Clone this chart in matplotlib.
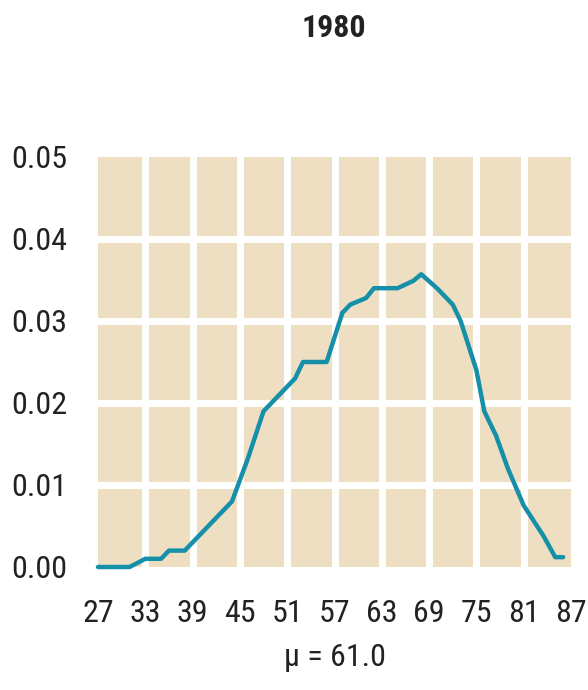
import matplotlib
matplotlib.use("Agg")
import matplotlib.pyplot as plt
from matplotlib import font_manager

# ---- data ----
title_text = "1980"
xlabel_text = "\u03bc = 61.0"
ages = [27, 31, 33, 35, 36, 38, 44, 46, 48, 50, 52, 53, 56, 58, 59, 61, 62, 65, 67, 68,
        70, 72, 73, 75, 76, 77.5, 79, 81, 83.5, 85, 86]
density = [0.000, 0.000, 0.001, 0.001, 0.002, 0.002, 0.008, 0.0132, 0.019, 0.021, 0.023,
           0.025, 0.025, 0.031, 0.032, 0.0328, 0.034, 0.034, 0.0349, 0.0357,
           0.034, 0.032, 0.030, 0.024, 0.019, 0.016, 0.012, 0.0075, 0.0038, 0.0012, 0.0012]
xticks = [27, 33, 39, 45, 51, 57, 63, 69, 75, 81, 87]
yticks = [0.00, 0.01, 0.02, 0.03, 0.04, 0.05]

names = {f.name for f in font_manager.fontManager.ttflist}
prefs = ["Roboto Condensed", "Archivo Narrow", "PT Sans Narrow", "Fira Sans Condensed",
         "IBM Plex Sans Condensed", "Liberation Sans Narrow", "Liberation Sans"]
main = next((p for p in prefs if p in names), "DejaVu Sans")
plt.rcParams["font.family"] = [main, "DejaVu Sans"]

fig = plt.figure(figsize=(5.88, 6.90), dpi=100)
ax = fig.add_axes([98/588, (690-567)/690, (571-98)/588, (567-157)/690])
ax.set_facecolor("#EEDFC3")

for x in xticks[1:-1]:
    ax.axvline(x, color="white", lw=5, zorder=1)
for y in yticks[1:-1]:
    ax.axhline(y, color="white", lw=5, zorder=1)

ax.plot(ages, density, color="#1590A8", lw=3.2, zorder=3, clip_on=False,
        solid_capstyle="round", solid_joinstyle="round")

ax.set_xlim(27, 87)
ax.set_ylim(0, 0.05)
ax.set_xticks(xticks)
ax.set_xticklabels([str(v) for v in xticks])
ax.set_yticks(yticks)
ax.set_yticklabels([f"{v:.2f}" for v in yticks])
ax.tick_params(axis="both", length=0, labelsize=23, colors="#222222")
ax.tick_params(axis="x", pad=23)
ax.tick_params(axis="y", pad=22)
for s in ax.spines.values():
    s.set_visible(False)

ax.set_xlabel(xlabel_text, fontsize=23, color="#222222", labelpad=11)
fig.text(0.5685, 1 - 28/690, title_text, ha="center", va="center",
         fontsize=23, fontweight="bold", color="#222222")

fig.savefig("out.png", dpi=100, facecolor="white")
